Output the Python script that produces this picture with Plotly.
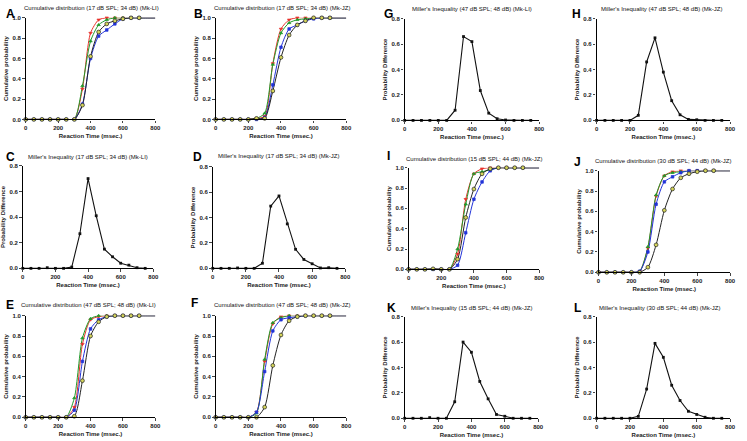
import plotly.graph_objects as go

W, H = 747, 441

# ---------------- data ----------------
rt_cum = [0, 50, 100, 150, 200, 250, 300, 350, 400, 450, 500, 550, 600, 650, 700, 750, 800]
rt_mil = [0, 50, 100, 150, 200, 250, 300, 350, 400, 450, 500, 550, 600, 650, 700, 750]
x_ticks = [0, 200, 400, 600, 800]
cum_ticks = [0.0, 0.2, 0.4, 0.6, 0.8, 1.0]
mil_ticks = [0.0, 0.2, 0.4, 0.6, 0.8]

A_red   = [0, 0, 0, 0, 0, 0, 0, 0.30, 0.85, 0.98, 1.0, 1.0, 1.0, 1.0, 1.0, 1.0, 1.0]
A_green = [0, 0, 0, 0, 0, 0, 0, 0.33, 0.77, 0.93, 0.98, 1.0, 1.0, 1.0, 1.0, 1.0, 1.0]
A_blue  = [0, 0, 0, 0, 0, 0, 0, 0.15, 0.60, 0.82, 0.88, 0.94, 0.99, 1.0, 1.0, 1.0, 1.0]
A_black = [0, 0, 0, 0, 0, 0, 0, 0.14, 0.62, 0.86, 0.94, 0.97, 0.99, 1.0, 1.0, 1.0, 1.0]

B_red   = [0, 0, 0, 0, 0, 0.01, 0.03, 0.55, 0.89, 0.98, 1.0, 1.0, 1.0, 1.0, 1.0, 1.0, 1.0]
B_green = [0, 0, 0, 0, 0, 0.01, 0.06, 0.54, 0.85, 0.95, 0.98, 0.99, 1.0, 1.0, 1.0, 1.0, 1.0]
B_blue  = [0, 0, 0, 0, 0, 0.0, 0.02, 0.34, 0.71, 0.89, 0.93, 0.97, 0.99, 1.0, 1.0, 1.0, 1.0]
B_black = [0, 0, 0, 0, 0, 0.01, 0.01, 0.28, 0.61, 0.83, 0.93, 0.97, 1.0, 1.0, 1.0, 1.0, 1.0]

C_diff = [0, 0, 0, 0.005, 0, 0, 0.01, 0.27, 0.70, 0.41, 0.15, 0.09, 0.04, 0.025, 0.005, 0]
D_diff = [0, 0, 0, 0.003, 0, 0, 0.04, 0.49, 0.57, 0.35, 0.15, 0.07, 0.036, 0.003, 0.005, 0]

E_red   = [0, 0, 0, 0, 0, 0, 0.10, 0.72, 0.96, 0.99, 1.0, 1.0, 1.0, 1.0, 1.0, 1.0, 1.0]
E_green = [0, 0, 0, 0, 0, 0, 0.19, 0.78, 0.97, 1.0, 1.0, 1.0, 1.0, 1.0, 1.0, 1.0, 1.0]
E_blue  = [0, 0, 0, 0, 0, 0, 0.07, 0.55, 0.87, 0.96, 0.99, 1.0, 1.0, 1.0, 1.0, 1.0, 1.0]
E_black = [0, 0, 0, 0, 0, 0, 0.01, 0.36, 0.80, 0.94, 0.99, 1.0, 1.0, 1.0, 1.0, 1.0, 1.0]

F_red   = [0, 0, 0, 0, 0, 0.05, 0.55, 0.92, 0.99, 1.0, 1.0, 1.0, 1.0, 1.0, 1.0, 1.0, 1.0]
F_green = [0, 0, 0, 0, 0, 0.04, 0.57, 0.93, 0.98, 1.0, 1.0, 1.0, 1.0, 1.0, 1.0, 1.0, 1.0]
F_blue  = [0, 0, 0, 0, 0, 0.05, 0.45, 0.85, 0.96, 0.98, 0.99, 1.0, 1.0, 1.0, 1.0, 1.0, 1.0]
F_black = [0, 0, 0, 0, 0, 0.0, 0.10, 0.51, 0.81, 0.95, 0.99, 1.0, 1.0, 1.0, 1.0, 1.0, 1.0]

G_diff = [0, 0, 0, 0, 0, 0, 0.08, 0.66, 0.62, 0.235, 0.057, 0.013, 0.003, 0, 0, 0]
H_diff = [0, 0, 0, 0, 0, 0.04, 0.46, 0.65, 0.38, 0.155, 0.044, 0.008, 0.005, 0, 0, 0]

I_red   = [0, 0, 0, 0, 0, 0, 0.15, 0.69, 0.94, 0.99, 1.0, 1.0, 1.0, 1.0, 1.0, 1.0, 1.0]
I_green = [0, 0, 0, 0, 0, 0, 0.20, 0.64, 0.94, 0.96, 0.98, 1.0, 1.0, 1.0, 1.0, 1.0, 1.0]
I_blue  = [0, 0, 0, 0, 0, 0, 0.04, 0.36, 0.69, 0.86, 0.97, 1.0, 1.0, 1.0, 1.0, 1.0, 1.0]
I_black = [0, 0, 0, 0.005, 0, 0, 0.10, 0.51, 0.79, 0.94, 0.99, 1.0, 1.0, 1.0, 1.0, 1.0, 1.0]

J_red   = [0, 0, 0, 0, 0, 0.01, 0.24, 0.75, 0.95, 0.99, 1.0, 1.0, 1.0, 1.0, 1.0, 1.0, 1.0]
J_green = [0, 0, 0, 0, 0, 0.01, 0.25, 0.76, 0.95, 0.98, 0.99, 1.0, 1.0, 1.0, 1.0, 1.0, 1.0]
J_blue  = [0, 0, 0, 0, 0, 0.01, 0.20, 0.67, 0.89, 0.94, 0.98, 1.0, 1.0, 1.0, 1.0, 1.0, 1.0]
J_black = [0, 0, 0, 0, 0, 0.0, 0.05, 0.27, 0.61, 0.82, 0.93, 0.97, 0.99, 1.0, 1.0, 1.0, 1.0]

K_diff = [0, 0, 0, 0.005, 0, 0, 0.13, 0.60, 0.52, 0.29, 0.153, 0.03, 0.016, 0, 0, 0]
L_diff = [0, 0, 0, 0, 0, 0.015, 0.23, 0.59, 0.48, 0.26, 0.14, 0.055, 0.03, 0.008, 0, 0]

titles = {
    "A": "Cumulative distribution (17 dB SPL; 34 dB) (Mk-LI)",
    "B": "Cumulative distribution (17 dB SPL; 34 dB) (Mk-JZ)",
    "C": "Miller's Inequality (17 dB SPL; 34 dB) (Mk-LI)",
    "D": "Miller's Inequality (17 dB SPL; 34 dB) (Mk-JZ)",
    "E": "Cumulative distribution (47 dB SPL; 48 dB) (Mk-LI)",
    "F": "Cumulative distribution (47 dB SPL; 48 dB) (Mk-JZ)",
    "G": "Miller's Inequality (47 dB SPL; 48 dB) (Mk-LI)",
    "H": "Miller's Inequality (47 dB SPL; 48 dB) (Mk-JZ)",
    "I": "Cumulative distribution (15 dB SPL; 44 dB) (Mk-JZ)",
    "J": "Cumulative distribution (30 dB SPL; 44 dB) (Mk-JZ)",
    "K": "Miller's Inequality (15 dB SPL; 44 dB) (Mk-JZ)",
    "L": "Miller's Inequality (30 dB SPL; 44 dB) (Mk-JZ)",
}
x_title = "Reaction Time (msec.)"
y_title_cum = "Cumulative probability"
y_title_mil = "Probability Difference"

cum_data = {
    "A": (A_red, A_green, A_blue, A_black),
    "B": (B_red, B_green, B_blue, B_black),
    "E": (E_red, E_green, E_blue, E_black),
    "F": (F_red, F_green, F_blue, F_black),
    "I": (I_red, I_green, I_blue, I_black),
    "J": (J_red, J_green, J_blue, J_black),
}
mil_data = {"C": C_diff, "D": D_diff, "G": G_diff, "H": H_diff, "K": K_diff, "L": L_diff}

# ---------------- layout (pixel boxes: x0, x1, ytop, ybottom) ----------------
boxes = {
    "A": (24, 155, 15, 118), "B": (216, 348, 15, 118),
    "C": (21, 153, 165, 269), "D": (213, 347, 166, 269),
    "E": (24, 155, 317, 420), "F": (216, 348, 317, 420),
    "G": (407, 543, 16, 119), "H": (601, 736, 16, 119),
    "I": (411, 543, 167, 270), "J": (603, 736, 170, 273),
    "K": (407, 542, 318, 421), "L": (601, 736, 318, 421),
}
letter_pos = {
    "A": (2, 2), "B": (192, 2), "C": (2, 147), "D": (191, 147),
    "E": (2, 297), "F": (189, 295), "G": (384, 2), "H": (574, 2),
    "I": (387, 146), "J": (576, 152), "K": (387, 300), "L": (576, 300),
}
title_pos = {
    "A": (90, 5), "B": (283, 5), "C": (87, 156), "D": (280, 155),
    "E": (87, 306), "F": (283, 306), "G": (475, 6), "H": (667, 6),
    "I": (477, 158), "J": (668, 160), "K": (475, 309), "L": (665, 309),
}

FONT = "Liberation Sans, Arial, sans-serif"
series_style = [
    dict(color="#e8302a", symbol="triangle-down", size=3, fill="#e8302a"),
    dict(color="#1f9a2a", symbol="triangle-up", size=3, fill="#1f9a2a"),
    dict(color="#2233d8", symbol="square", size=2.6, fill="#2233d8"),
    dict(color="#222222", symbol="circle", size=3.8, fill="#d4d45a"),
]

fig = go.Figure()
layout = {}
annotations = []
order = ["A", "B", "C", "D", "E", "F", "G", "H", "I", "J", "K", "L"]
for i, key in enumerate(order, start=1):
    xa = "x" if i == 1 else f"x{i}"
    ya = "y" if i == 1 else f"y{i}"
    x0, x1, yt, yb = boxes[key]
    is_cum = key in cum_data
    layout["xaxis" if i == 1 else f"xaxis{i}"] = dict(
        domain=[x0 / W, x1 / W], anchor=ya, range=[0, 800],
        tickvals=x_ticks, ticks="outside", ticklen=2.5, tickwidth=1,
        showline=True, linewidth=1.3, linecolor="black", showgrid=False,
        zeroline=False, tickfont=dict(size=6, family=FONT, color="#222", weight="bold"),
        title=dict(text=x_title, standoff=3,
                   font=dict(size=6, family=FONT, color="#222", weight="bold")),
    )
    layout["yaxis" if i == 1 else f"yaxis{i}"] = dict(
        domain=[1 - yb / H, 1 - yt / H], anchor=xa,
        range=[0, 1.0] if is_cum else [0, 0.8],
        tickvals=cum_ticks if is_cum else mil_ticks, tickformat=".1f",
        ticks="outside", ticklen=2.5, tickwidth=1,
        showline=True, linewidth=1.3, linecolor="black", showgrid=False,
        zeroline=False, tickfont=dict(size=6, family=FONT, color="#222", weight="bold"),
        title=dict(text=y_title_cum if is_cum else y_title_mil, standoff=3,
                   font=dict(size=6, family=FONT, color="#222", weight="bold")),
    )
    if is_cum:
        for vals, st in zip(cum_data[key], series_style):
            fig.add_trace(go.Scatter(
                x=rt_cum, y=vals, xaxis=xa, yaxis=ya, mode="lines",
                line=dict(color=st["color"], width=1, shape="spline", smoothing=0.7),
                cliponaxis=False, showlegend=False, hoverinfo="skip"))
        for vals, st in zip(cum_data[key], series_style):
            fig.add_trace(go.Scatter(
                x=rt_cum[:15], y=vals[:15], xaxis=xa, yaxis=ya, mode="markers",
                marker=dict(symbol=st["symbol"], size=st["size"], color=st["fill"],
                            line=dict(color=st["color"], width=0.7)),
                cliponaxis=False, showlegend=False, hoverinfo="skip"))
    else:
        fig.add_trace(go.Scatter(
            x=rt_mil, y=mil_data[key], xaxis=xa, yaxis=ya, mode="lines+markers",
            line=dict(color="#111", width=1.1),
            marker=dict(symbol="square", size=2.8, color="#111"),
            cliponaxis=False, showlegend=False, hoverinfo="skip"))
    lx, ly = letter_pos[key]
    annotations.append(dict(
        text=f"<b>{key}</b>", x=lx / W, y=1 - ly / H, xref="paper", yref="paper",
        xanchor="left", yanchor="top", showarrow=False,
        font=dict(size=12, family=FONT, color="black")))
    tx, ty = title_pos[key]
    annotations.append(dict(
        text=titles[key], x=tx / W, y=1 - ty / H, xref="paper", yref="paper",
        xanchor="center", yanchor="middle", showarrow=False,
        font=dict(size=6, family=FONT, color="#111")))

layout["annotations"] = annotations
fig.update_layout(
    width=W, height=H, margin=dict(l=0, r=0, t=0, b=0),
    paper_bgcolor="white", plot_bgcolor="white", showlegend=False,
    font=dict(family=FONT), **layout)

fig.write_html("out.html", config={"displayModeBar": False},
               post_script="document.body.style.margin='0';document.body.style.overflow='hidden';")
